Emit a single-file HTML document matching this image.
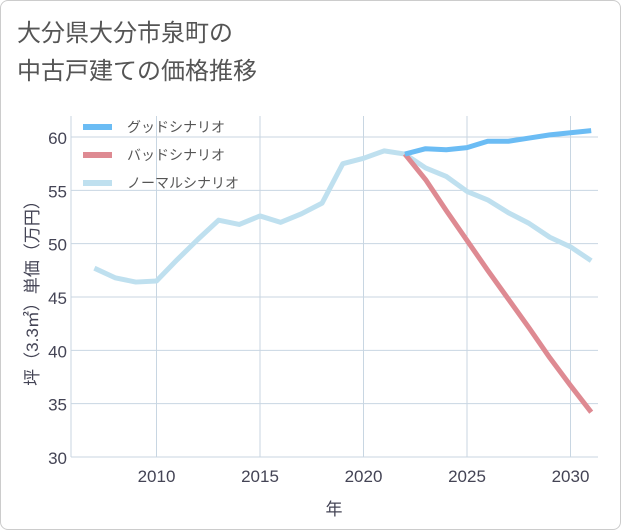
<!DOCTYPE html>
<html><head><meta charset="utf-8"><style>
body{margin:0;background:#fff;font-family:"Liberation Sans","Noto Sans CJK JP",sans-serif;}
#wrap{position:relative;width:619px;height:528px;border:1px solid #ccc;border-radius:8px;overflow:hidden;background:#fff}
</style></head><body>
<div id="wrap">
<svg id="c" width="621" height="530" font-family="Liberation Sans, Noto Sans CJK JP, sans-serif">
<text x="16" y="40" font-size="24" fill="#555">大分県大分市泉町の</text>
<text x="16" y="78" font-size="24" fill="#555">中古戸建ての価格推移</text>
<g id="grid"></g><g id="axes"></g><g id="series"></g><g id="legend"></g>
<text x="333" y="514" font-size="17" fill="#445" text-anchor="middle">年</text>
<text transform="translate(37,288) rotate(-90)" font-size="17" fill="#445" text-anchor="middle">坪（3.3㎡）単価（万円）</text>
</svg></div>
<script>
const years=[2007,2008,2009,2010,2011,2012,2013,2014,2015,2016,2017,2018,2019,2020,2021,2022,2023,2024,2025,2026,2027,2028,2029,2030,2031];
const normal=[47.7,46.8,46.4,46.5,48.5,50.4,52.2,51.8,52.6,52.0,52.8,53.8,57.5,58.0,58.7,58.4,57.1,56.3,54.9,54.1,52.9,51.9,50.6,49.7,48.4];
const goodYears=[2022,2023,2024,2025,2026,2027,2028,2029,2030,2031];
const good=[58.4,58.9,58.8,59.0,59.6,59.6,59.9,60.2,60.4,60.6];
const bad=[58.4,56.0,53.1,50.3,47.5,44.8,42.1,39.3,36.7,34.2];
const yTicks=[30,35,40,45,50,55,60];
const xTicks=[2010,2015,2020,2025,2030];
const NS="http://www.w3.org/2000/svg";
const L=70,R=597,T=115,B=456;
const X=y=>155.5+(y-2010)*20.7;
const Y=v=>456-(v-30)*10.667;
function mk(t,a,p){const e=document.createElementNS(NS,t);for(const k in a)e.setAttribute(k,a[k]);p.appendChild(e);return e;}
const grid=document.getElementById('grid'),axes=document.getElementById('axes'),ser=document.getElementById('series'),leg=document.getElementById('legend');
yTicks.forEach(v=>{
 const l=mk('line',{x1:L,x2:R,y1:Y(v),y2:Y(v),stroke:'#c8d6e2','stroke-width':1},grid);
 
 
 const t=mk('text',{x:L-4,y:Y(v)+7,'font-size':17,fill:'#445','text-anchor':'end'},axes);
 t.textContent=v;
 
 
});
xTicks.forEach(v=>{
 const l=mk('line',{x1:X(v),x2:X(v),y1:T,y2:B,stroke:'#c8d6e2','stroke-width':1},grid);
 
 
 const t=mk('text',{x:X(v),y:B+25,'font-size':17,fill:'#445','text-anchor':'middle'},axes);
 t.textContent=v;
 
 
});
const ax=mk('line',{x1:L,x2:L,y1:T,y2:B,stroke:'#c8d6e2'},axes);


function line(xs,vs,color,name){
 const p=mk('polyline',{points:xs.map((y,i)=>X(y)+','+Y(vs[i])).join(' '),fill:'none',stroke:color,'stroke-width':5,'stroke-linejoin':'round'},ser);
 
 
}
line(years,normal,'#bfe0ef','normal-scenario-line');
line(goodYears,bad,'#de8a92','bad-scenario-line');
line(goodYears,good,'#6bbcf4','good-scenario-line');
const items=[['グッドシナリオ','#6bbcf4'],['バッドシナリオ','#de8a92'],['ノーマルシナリオ','#bfe0ef']];
items.forEach((it,i)=>{
 const y=126+i*28;
 const s=mk('line',{x1:82,x2:111,y1:y,y2:y,stroke:it[1],'stroke-width':6},leg);
 
 
 const t=mk('text',{x:126,y:y+5,'font-size':14,fill:'#555'},leg);
 t.textContent=it[0];
 
 
});
</script>
</body></html>
